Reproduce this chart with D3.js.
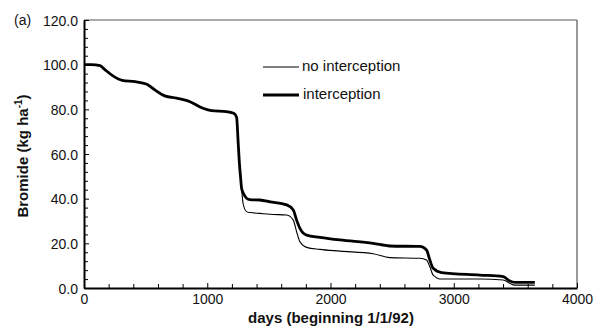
<!DOCTYPE html>
<html><head><meta charset="utf-8">
<script src="https://cdn.jsdelivr.net/npm/d3@7"></script>
<style>
body{margin:0;background:#fff;}
svg{display:block;font-family:"Liberation Sans",Arial,sans-serif;}
</style></head>
<body><svg id="c" width="594" height="327"></svg>
<script>
const days = [0, 60, 130, 165, 235, 310, 415, 510, 575, 655, 750, 860, 965, 1035, 1155, 1215, 1238, 1251, 1262, 1270, 1279, 1292, 1319, 1346, 1427, 1510, 1645, 1698, 1725, 1752, 1806, 1914, 2076, 2346, 2482, 2725, 2779, 2806, 2833, 2901, 3212, 3401, 3455, 3495, 3658];
const interception = [100, 100, 99.6, 98, 95, 93, 92.4, 91.2, 88.7, 86, 85, 83.4, 80.5, 79.4, 79, 78.2, 76.5, 65, 55, 49.8, 44.5, 42.5, 40.2, 39.6, 39.4, 38.6, 37.2, 34.9, 30.4, 26.7, 23.7, 22.7, 21.5, 20, 18.8, 18.6, 17.0, 12.5, 8.8, 6.9, 5.8, 5.1, 3.1, 2.5, 2.5];
const noInterception = [100, 100, 99.6, 98, 95, 93, 92.4, 91.2, 88.7, 86, 85, 83.4, 80.5, 79.4, 79, 78.2, 76.5, 65, 55, 49.8, 44.0, 37.5, 34.2, 33.8, 33.4, 33.0, 32.7, 30.4, 25.2, 20.7, 18.2, 17.3, 16.5, 15.3, 13.6, 13.3, 12.5, 9.5, 5.8, 4.0, 4.0, 3.6, 2.1, 1.3, 1.3];
const xTicks = [0, 1000, 2000, 3000, 4000];
const yTicks = [0, 20, 40, 60, 80, 100, 120];
const seriesNames = ["no interception", "interception"];

const svg = d3.select("#c");
const L = 84, R = 577, T = 20, B = 288;
const x = d3.scaleLinear().domain([0, 4000]).range([L, R]);
const y = d3.scaleLinear().domain([0, 120]).range([B, T]);

// frame top/right
svg.append("line").attr("x1", L).attr("x2", R).attr("y1", T).attr("y2", T).attr("stroke", "#555").attr("stroke-width", 1.2);
svg.append("line").attr("x1", R).attr("x2", R).attr("y1", T).attr("y2", B).attr("stroke", "#555").attr("stroke-width", 1.2);

// minor ticks
const xMinor = d3.range(0, 4001, 200).filter(v => v % 1000 !== 0);
const yMinor = d3.range(0, 121, 4).filter(v => v % 20 !== 0);
svg.append("g").attr("transform", `translate(0,${B})`)
  .call(d3.axisBottom(x).tickValues(xMinor).tickSizeInner(-4).tickSizeOuter(0).tickFormat(""))
  .call(g => g.select(".domain").remove())
  .call(g => g.selectAll("line").attr("stroke", "#000").attr("stroke-width", 1));
svg.append("g").attr("transform", `translate(${L},0)`)
  .call(d3.axisLeft(y).tickValues(yMinor).tickSizeInner(-4).tickSizeOuter(0).tickFormat(""))
  .call(g => g.select(".domain").remove())
  .call(g => g.selectAll("line").attr("stroke", "#000").attr("stroke-width", 1));

// major axes
const xa = svg.append("g").attr("transform", `translate(0,${B})`)
  .call(d3.axisBottom(x).tickValues(xTicks).tickSizeInner(-5).tickSizeOuter(0).tickPadding(5).tickFormat(d3.format("d")));
const ya = svg.append("g").attr("transform", `translate(${L},0)`)
  .call(d3.axisLeft(y).tickValues(yTicks).tickSizeInner(-5).tickSizeOuter(0).tickPadding(6).tickFormat(d3.format(".1f")));
[xa, ya].forEach(g => {
  g.select(".domain").attr("stroke", "#000").attr("stroke-width", 2);
  g.selectAll("line").attr("stroke", "#000").attr("stroke-width", 1);
  g.selectAll("text").attr("font-size", 14).attr("fill", "#111").attr("font-family", "Liberation Sans, Arial, sans-serif");
});
ya.selectAll("text").attr("dy", "0.36em");
xa.selectAll("text").attr("dy", "0.78em");

// lines
const line = vals => d3.line().x((d, i) => x(days[i])).y(d => y(d)).curve(d3.curveMonotoneX)(vals);
svg.append("path").attr("d", line(noInterception)).attr("fill", "none").attr("stroke", "#000").attr("stroke-width", 1.1);
svg.append("path").attr("d", line(interception)).attr("fill", "none").attr("stroke", "#000").attr("stroke-width", 2.8);

// legend
const lg = [{name: seriesNames[0], w: 1.1, y: 67}, {name: seriesNames[1], w: 2.8, y: 95}];
lg.forEach(d => {
  svg.append("line").attr("x1", 263).attr("x2", 299).attr("y1", d.y).attr("y2", d.y).attr("stroke", "#000").attr("stroke-width", d.w);
  svg.append("text").attr("x", d.w > 2 ? 303 : 302).attr("y", d.y - 1).attr("dy", "0.36em").attr("font-size", 15).attr("fill", "#111").text(d.name);
});

// titles
svg.append("text").attr("x", 331).attr("y", 323).attr("text-anchor", "middle").attr("font-size", 15).attr("font-weight", "bold").attr("fill", "#111").text("days (beginning 1/1/92)");
const yt = svg.append("text").attr("transform", "translate(28,156) rotate(-90)").attr("text-anchor", "middle").attr("font-size", 15).attr("font-weight", "bold").attr("fill", "#111");
yt.append("tspan").text("Bromide (kg ha");
yt.append("tspan").attr("font-size", 10).attr("dy", -6).text("-1");
yt.append("tspan").attr("dy", 6).text(")");
svg.append("text").attr("x", 14).attr("y", 20).attr("dy", "0.36em").attr("font-size", 14).attr("fill", "#111").text("(a)");
</script></body></html>
